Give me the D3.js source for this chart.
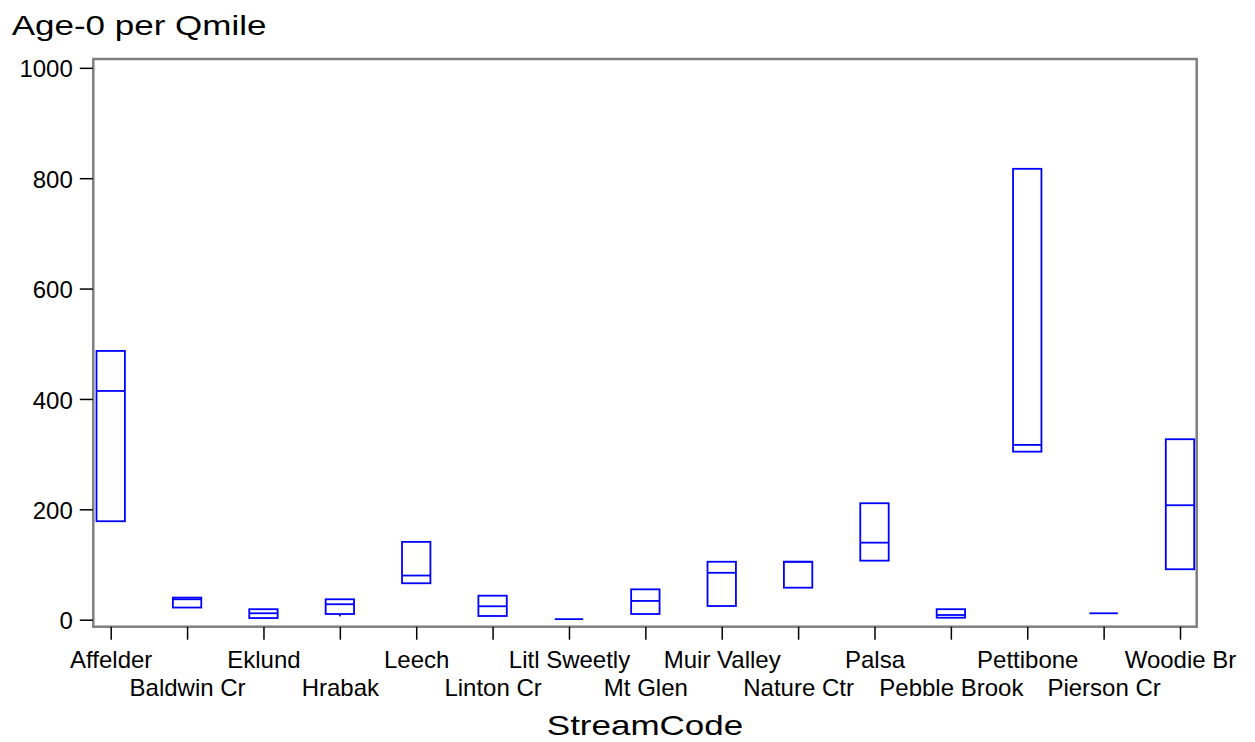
<!DOCTYPE html>
<html>
<head>
<meta charset="utf-8">
<script src="https://cdn.jsdelivr.net/npm/d3@7"></script>
<style>
  html, body { margin: 0; padding: 0; background: #fff; }
  svg { display: block; }
  text { font-family: "Liberation Sans", Arial, sans-serif; fill: #000; }
</style>
</head>
<body>
<svg id="chart" width="1255" height="742"></svg>
<script>
// ---- data ----
const categories = ["Affelder","Baldwin Cr","Eklund","Hrabak","Leech","Linton Cr","Litl Sweetly",
  "Mt Glen","Muir Valley","Nature Ctr","Palsa","Pebble Brook","Pettibone","Pierson Cr","Woodie Br"];
const q3Values     = [487, 40, 19, 37, 141, 43.5, 1, 55, 105, 105, 211, 19, 817, 11.6, 327];
const medianValues = [414.5, 37, 11.6, 28, 80, 24.3, 1, 34, 85, 105, 139.6, 8.5, 316.7, 11.6, 207.4];
const q1Values     = [178.4, 22, 3, 10.3, 66, 6.7, 1, 10.3, 24.8, 58, 107, 3.6, 304.5, 11.6, 91.4];
const lowWhisker   = [178.4, 22, 3, 6, 66, 6.7, 1, 10.3, 24.8, 58, 107, 3.6, 304.5, 11.6, 91.4];
const yTicks = [0, 200, 400, 600, 800, 1000];
const titleText = "Age-0 per Qmile";
const xTitle = "StreamCode";

// ---- layout ----
const frame = { left: 93.3, right: 1196.7, top: 59, bottom: 626.7 };
const svg = d3.select("#chart");

const x = d3.scalePoint().domain(categories).range([110.7, 1180]);
const y = d3.scaleLinear().domain([-12.7, 1016]).range([frame.bottom, frame.top]);
const boxHalf = 14.2;

// frame
svg.append("rect")
  .attr("x", frame.left).attr("y", frame.top)
  .attr("width", frame.right - frame.left).attr("height", frame.bottom - frame.top)
  .attr("fill", "none").attr("stroke", "#7f7f7f").attr("stroke-width", 2.5);

// y axis
const yAxis = d3.axisLeft(y).tickValues(yTicks).tickSize(13).tickPadding(7).tickFormat(d3.format("d"));
const gy = svg.append("g").attr("transform", `translate(${frame.left - 0.5},0)`).call(yAxis);
gy.select(".domain").remove();
gy.selectAll(".tick line").attr("stroke", "#000").attr("stroke-width", 1.5);
gy.selectAll(".tick text").attr("font-size", 24).attr("dy", "0.38em")
  .style("font-family", "'Liberation Sans', Arial, sans-serif");

// x axis
const xAxis = d3.axisBottom(x).tickSize(13).tickFormat(d => d);
const gx = svg.append("g").attr("transform", `translate(0,${frame.bottom})`).call(xAxis);
gx.select(".domain").remove();
gx.selectAll(".tick line").attr("stroke", "#000").attr("stroke-width", 1.5);
gx.selectAll(".tick text")
  .attr("font-size", 24)
  .attr("dy", null)
  .attr("y", (d, i) => i % 2 === 0 ? 668.3 - frame.bottom : 696 - frame.bottom)
  .style("font-family", "'Liberation Sans', Arial, sans-serif");

// boxes
const boxes = categories.map((c, i) => ({
  c, q1: q1Values[i], med: medianValues[i], q3: q3Values[i], lo: lowWhisker[i]
}));
const g = svg.append("g").attr("fill", "none").attr("stroke", "#0000ff").attr("stroke-width", 1.8);
boxes.forEach(b => {
  const cx = x(b.c);
  if (b.q3 === b.q1) {
    g.append("line").attr("x1", cx - boxHalf).attr("x2", cx + boxHalf)
      .attr("y1", y(b.q1)).attr("y2", y(b.q1));
    return;
  }
  g.append("rect").attr("x", cx - boxHalf).attr("y", y(b.q3))
    .attr("width", boxHalf * 2).attr("height", y(b.q1) - y(b.q3));
  g.append("line").attr("x1", cx - boxHalf).attr("x2", cx + boxHalf)
    .attr("y1", y(b.med)).attr("y2", y(b.med));
  if (b.lo < b.q1) {
    g.append("line").attr("x1", cx).attr("x2", cx).attr("y1", y(b.q1)).attr("y2", y(b.lo));
  }
});

// titles
svg.append("text").attr("transform", "translate(11.7,35) scale(1.25,1)")
  .attr("font-size", 28).text(titleText);
svg.append("text").attr("transform", `translate(${(frame.left + frame.right) / 2},735) scale(1.25,1)`)
  .attr("text-anchor", "middle").attr("font-size", 28).text(xTitle);
</script>
</body>
</html>
